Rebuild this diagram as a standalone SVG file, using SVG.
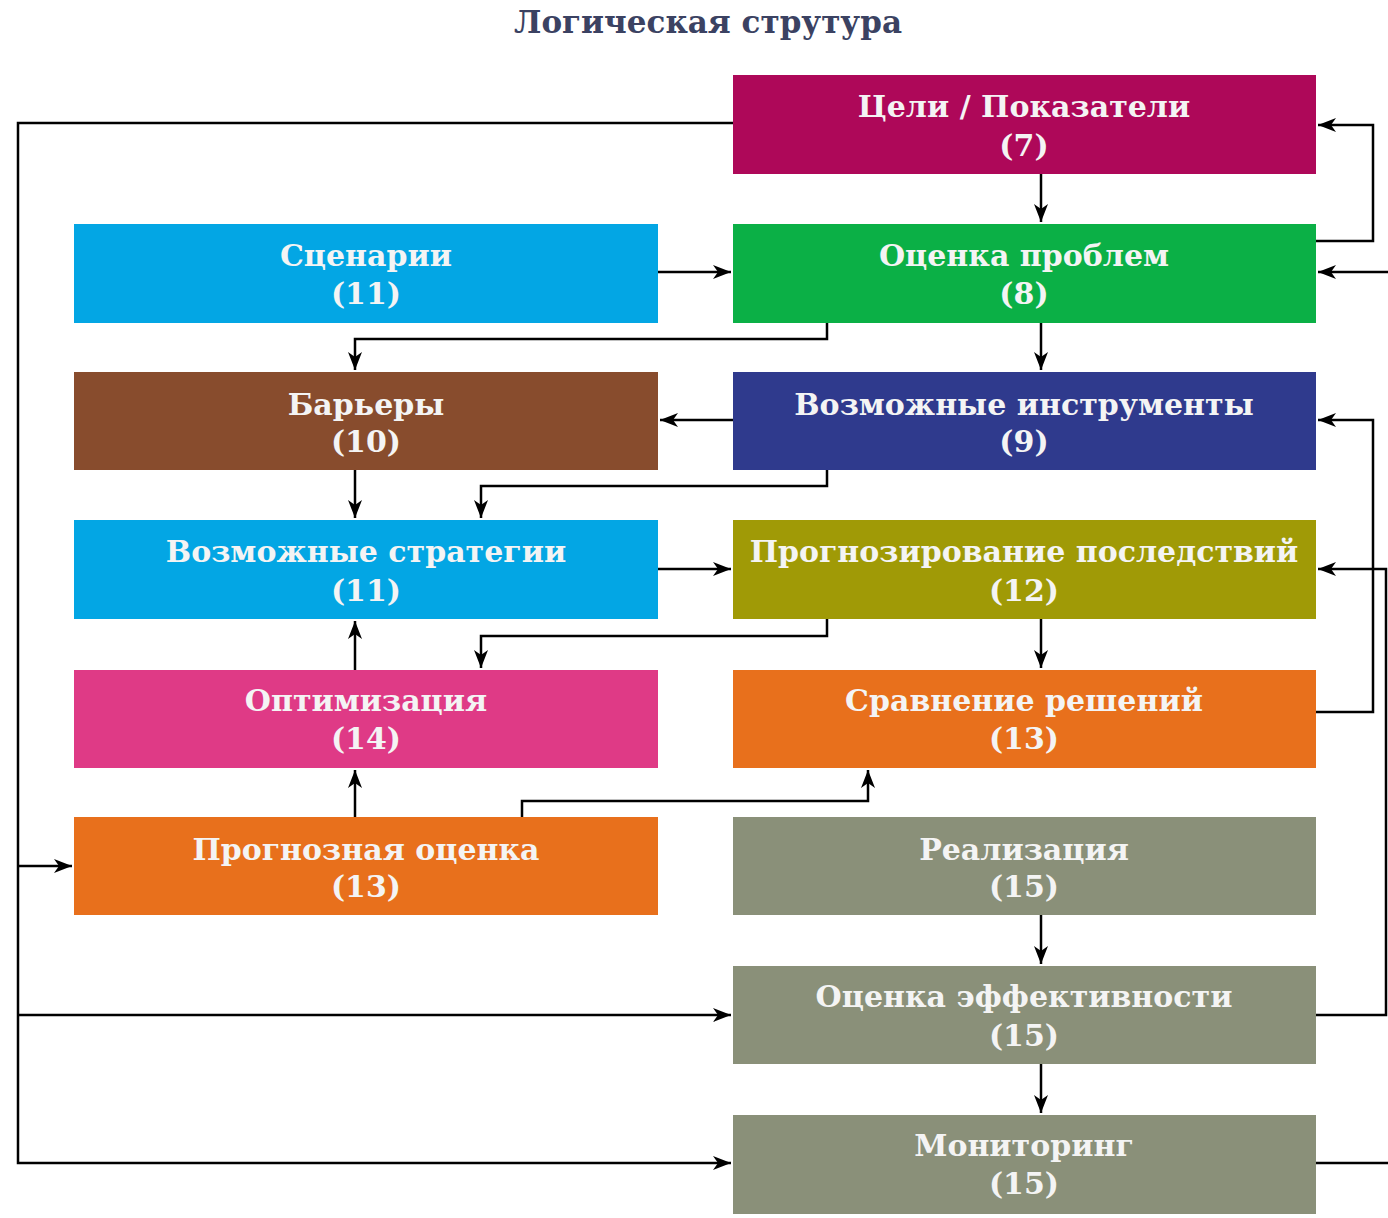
<svg xmlns="http://www.w3.org/2000/svg" width="1388" height="1218" viewBox="0 0 1388 1218">
<style>
.t{font-family:"DejaVu Serif","Liberation Serif",serif;font-weight:bold;font-size:30px;fill:#F4F4F4;text-anchor:middle}
.ttl{font-family:"DejaVu Serif","Liberation Serif",serif;font-weight:bold;font-size:31px;fill:#3B4262;text-anchor:middle}
.c{fill:none;stroke:#000;stroke-width:2.5}
.a{marker-end:url(#ah)}
</style>
<defs>
<marker id="ah" viewBox="0 0 18 14" refX="18" refY="7" markerWidth="18" markerHeight="14" markerUnits="userSpaceOnUse" orient="auto">
<path d="M0,0 L18,7 L0,14 L5,7 Z" fill="#000"/>
</marker>
</defs>
<rect width="1388" height="1218" fill="#fff"/>
<text class="ttl" x="708" y="33">Логическая струтура</text>

<g id="connectors">
<path class="c a" d="M733,123 H18 V1163 H731"/>
<path class="c a" d="M18,866 H72"/>
<path class="c a" d="M18,1015 H731"/>
<path class="c a" d="M1316,241 H1373 V125 H1318"/>
<path class="c a" d="M1388,272 H1318"/>
<path class="c a" d="M1316,712 H1373 V420 H1318"/>
<path class="c a" d="M1316,1015 H1386 V569 H1318"/>
<path class="c" d="M1316,1163 H1388"/>
<path class="c a" d="M1041,174 V222"/>
<path class="c a" d="M658,272 H731"/>
<path class="c a" d="M827,323 V339 H355 V370"/>
<path class="c a" d="M1041,323 V370"/>
<path class="c a" d="M733,420 H660"/>
<path class="c a" d="M355,470 V518"/>
<path class="c a" d="M827,470 V486 H481 V518"/>
<path class="c a" d="M658,569 H731"/>
<path class="c a" d="M1041,619 V668"/>
<path class="c a" d="M827,619 V636 H481 V668"/>
<path class="c a" d="M355,670 V621"/>
<path class="c a" d="M355,817 V770"/>
<path class="c a" d="M522,817 V801 H868 V770"/>
<path class="c a" d="M1041,915 V964"/>
<path class="c a" d="M1041,1064 V1113"/>
</g>

<g id="n7"><rect x="733" y="75" width="583" height="99" fill="#AE0859"/><text class="t" x="1024" y="117">Цели / Показатели</text><text class="t" x="1024" y="156">(7)</text></g>
<g id="n8"><rect x="733" y="224" width="583" height="99" fill="#0BB046"/><text class="t" x="1024" y="266">Оценка проблем</text><text class="t" x="1024" y="304">(8)</text></g>
<g id="n11a"><rect x="74" y="224" width="584" height="99" fill="#03A6E4"/><text class="t" x="366" y="266">Сценарии</text><text class="t" x="366" y="304">(11)</text></g>
<g id="n10"><rect x="74" y="372" width="584" height="98" fill="#884C2D"/><text class="t" x="366" y="415">Барьеры</text><text class="t" x="366" y="452">(10)</text></g>
<g id="n9"><rect x="733" y="372" width="583" height="98" fill="#2F3A8D"/><text class="t" x="1024" y="415">Возможные инструменты</text><text class="t" x="1024" y="452">(9)</text></g>
<g id="n11b"><rect x="74" y="520" width="584" height="99" fill="#03A6E4"/><text class="t" x="366" y="562">Возможные стратегии</text><text class="t" x="366" y="601">(11)</text></g>
<g id="n12"><rect x="733" y="520" width="583" height="99" fill="#A09A06"/><text class="t" x="1024" y="562">Прогнозирование последствий</text><text class="t" x="1024" y="601">(12)</text></g>
<g id="n14"><rect x="74" y="670" width="584" height="98" fill="#DF3A86"/><text class="t" x="366" y="711">Оптимизация</text><text class="t" x="366" y="749">(14)</text></g>
<g id="n13a"><rect x="733" y="670" width="583" height="98" fill="#E8701C"/><text class="t" x="1024" y="711">Сравнение решений</text><text class="t" x="1024" y="749">(13)</text></g>
<g id="n13b"><rect x="74" y="817" width="584" height="98" fill="#E8701C"/><text class="t" x="366" y="860">Прогнозная оценка</text><text class="t" x="366" y="897">(13)</text></g>
<g id="n15a"><rect x="733" y="817" width="583" height="98" fill="#8A9079"/><text class="t" x="1024" y="860">Реализация</text><text class="t" x="1024" y="897">(15)</text></g>
<g id="n15b"><rect x="733" y="966" width="583" height="98" fill="#8A9079"/><text class="t" x="1024" y="1007">Оценка эффективности</text><text class="t" x="1024" y="1046">(15)</text></g>
<g id="n15c"><rect x="733" y="1115" width="583" height="99" fill="#8A9079"/><text class="t" x="1024" y="1156">Мониторинг</text><text class="t" x="1024" y="1194">(15)</text></g>
</svg>
